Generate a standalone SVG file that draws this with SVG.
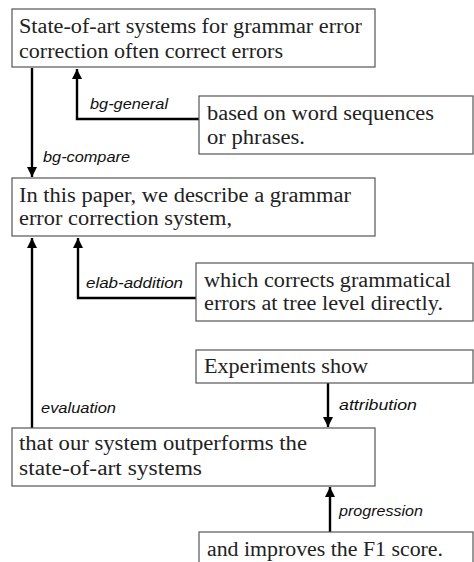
<svg xmlns="http://www.w3.org/2000/svg" width="474" height="562" viewBox="0 0 474 562">
<style>
.box{fill:#fff;stroke:#555;stroke-width:1.2}
.t{font-family:"Liberation Serif","Times New Roman",serif;font-size:20.5px;fill:#222}
.lbl{font-family:"Liberation Sans",Arial,sans-serif;font-style:italic;font-size:14px;fill:#111}
.c{fill:none;stroke:#000;stroke-width:2.4}
</style>
<defs>
<marker id="ah" viewBox="0 0 10 10" refX="10" refY="5" markerWidth="4.2" markerHeight="4.2" markerUnits="strokeWidth" orient="auto">
<path d="M0,0 L10,5 L0,10 z" fill="#000"/>
</marker>
</defs>
<rect width="474" height="562" fill="#fff"/>
<g id="connectors">
<path class="c" d="M199,119 H77 V69" marker-end="url(#ah)"/>
<path class="c" d="M32,68 V177" marker-end="url(#ah)"/>
<path class="c" d="M196,298 H78 V238" marker-end="url(#ah)"/>
<path class="c" d="M32,428 V238" marker-end="url(#ah)"/>
<path class="c" d="M328,383 V427" marker-end="url(#ah)"/>
<path class="c" d="M330,532 V487" marker-end="url(#ah)"/>
<text class="lbl" x="90" y="109" textLength="78" lengthAdjust="spacingAndGlyphs">bg-general</text>
<text class="lbl" x="43" y="162" textLength="87" lengthAdjust="spacingAndGlyphs">bg-compare</text>
<text class="lbl" x="86" y="288" textLength="97" lengthAdjust="spacingAndGlyphs">elab-addition</text>
<text class="lbl" x="41" y="413" textLength="75" lengthAdjust="spacingAndGlyphs">evaluation</text>
<text class="lbl" x="339" y="410" textLength="78" lengthAdjust="spacingAndGlyphs">attribution</text>
<text class="lbl" x="339" y="516" textLength="84" lengthAdjust="spacingAndGlyphs">progression</text>
</g>
<g id="n1">
<rect class="box" x="12" y="9" width="363" height="58"/>
<text class="t" x="19" y="33" textLength="343" lengthAdjust="spacingAndGlyphs">State-of-art systems for grammar error</text>
<text class="t" x="19" y="58" textLength="264" lengthAdjust="spacingAndGlyphs">correction often correct errors</text>
</g>
<g id="n2">
<rect class="box" x="199" y="96" width="274" height="58"/>
<text class="t" x="207" y="120" textLength="227" lengthAdjust="spacingAndGlyphs">based on word sequences</text>
<text class="t" x="207" y="144" textLength="98" lengthAdjust="spacingAndGlyphs">or phrases.</text>
</g>
<g id="n3">
<rect class="box" x="12" y="178" width="363" height="58"/>
<text class="t" x="19" y="202" textLength="332" lengthAdjust="spacingAndGlyphs">In this paper, we describe a grammar</text>
<text class="t" x="19" y="225" textLength="213" lengthAdjust="spacingAndGlyphs">error correction system,</text>
</g>
<g id="n4">
<rect class="box" x="196" y="263" width="277" height="58"/>
<text class="t" x="204" y="287" textLength="247" lengthAdjust="spacingAndGlyphs">which corrects grammatical</text>
<text class="t" x="204" y="310" textLength="239" lengthAdjust="spacingAndGlyphs">errors at tree level directly.</text>
</g>
<g id="n5">
<rect class="box" x="196" y="350" width="277" height="33"/>
<text class="t" x="204" y="373" textLength="164" lengthAdjust="spacingAndGlyphs">Experiments show</text>
</g>
<g id="n6">
<rect class="box" x="12" y="428" width="363" height="58"/>
<text class="t" x="19" y="450" textLength="288" lengthAdjust="spacingAndGlyphs">that our system outperforms the</text>
<text class="t" x="19" y="475" textLength="183" lengthAdjust="spacingAndGlyphs">state-of-art systems</text>
</g>
<g id="n7">
<rect class="box" x="199" y="532" width="274" height="40"/>
<text class="t" x="207" y="556" textLength="236" lengthAdjust="spacingAndGlyphs">and improves the F1 score.</text>
</g>
</svg>
